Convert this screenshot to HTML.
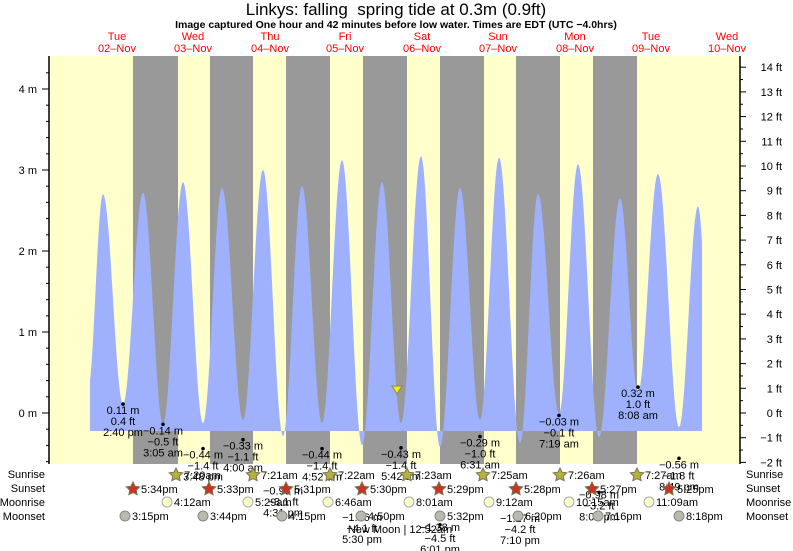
<!DOCTYPE html>
<html><head><meta charset="utf-8"><style>
body{margin:0;background:#fff}
svg{display:block;font-family:"Liberation Sans",sans-serif}
</style></head><body>
<svg id="s" width="793" height="551" xmlns="http://www.w3.org/2000/svg">
<rect x="0" y="0" width="793" height="551" fill="#fff"/>
<g id="bg"></g>
<path id="tide" fill="#9fb1fd"/>
<g id="ax"></g>
<g id="lab" font-size="11" fill="#000" text-anchor="middle"></g>
<text x="396" y="15" font-size="17" text-anchor="middle">Linkys: falling &#160;spring tide at 0.3m (0.9ft)</text>
<text x="396" y="28" font-size="10.5" font-weight="bold" text-anchor="middle">Image captured One hour and 42 minutes before low water. Times are EDT (UTC −4.0hrs)</text>
</svg>
<script>
const NS="http://www.w3.org/2000/svg";
function el(p,t,a,txt){const e=document.createElementNS(NS,t);for(const k in a)e.setAttribute(k,a[k]);if(txt!==undefined)e.textContent=txt;document.getElementById(p).appendChild(e);return e;}
const T=56,B=464,L=49,R=740;
const Y=m=>413-81*m;
el('bg','rect',{x:L,y:T,width:R-L,height:B-T,fill:'#ffffcc'});
[[133,178],[210,253],[286,330],[363,407],[440,484],[516,560],[593,637]].forEach(g=>el('bg','rect',{x:g[0],y:T,width:g[1]-g[0],height:B-T,fill:'#999'}));
const days=[['Tue','02–Nov',117],['Wed','03–Nov',193],['Thu','04–Nov',270],['Fri','05–Nov',345],['Sat','06–Nov',422],['Sun','07–Nov',498],['Mon','08–Nov',575],['Tue','09–Nov',651],['Wed','10–Nov',727]];
days.forEach(d=>{el('ax','text',{x:d[2],y:40,'font-size':11,fill:'#f00','text-anchor':'middle'},d[0]);el('ax','text',{x:d[2],y:52,'font-size':11,fill:'#f00','text-anchor':'middle'},d[1]);});
// curve extremes in pixel y
const ex=[[88,Y(0.3)],[103,Y(2.7)],[123,404],[143,Y(2.72)],[163,424],[183,Y(2.85)],[203,423],[222,Y(2.78)],[243,420],[263,Y(3.0)],[283,436],[302,Y(2.8)],[322,423],[342,Y(3.12)],[362,445],[382,Y(2.85)],[401,423],[421,Y(3.17)],[440,447],[460,Y(2.78)],[480,420],[499,Y(3.15)],[520,443],[538,Y(2.7)],[559,413],[578,Y(3.07)],[599,437],[620,Y(2.65)],[638,392],[658,Y(2.95)],[679,427],[698,Y(2.55)],[712,400]];
let pts=[];
for(let x=90;x<=702;x+=0.5){let i=0;while(i<ex.length-2&&ex[i+1][0]<x)i++;const a=ex[i],b=ex[i+1];const t=(x-a[0])/(b[0]-a[0]);const v=a[1]+(b[1]-a[1])*(1-Math.cos(Math.PI*t))/2;pts.push(x.toFixed(1)+','+v.toFixed(1));}
document.getElementById('tide').setAttribute('d','M90,431L'+pts.join('L')+'L702,431Z');
el('ax','line',{x1:L,y1:T,x2:L,y2:B,stroke:'#000','stroke-width':1.5});
el('ax','line',{x1:R,y1:T,x2:R,y2:B,stroke:'#000','stroke-width':1.5});
for(let m=-0.6;m<=4.4;m+=0.2){const y=Y(m);if(y<T||y>B)continue;const maj=Math.abs(m-Math.round(m))<0.01;el('ax','line',{x1:maj?42:46,y1:y,x2:L,y2:y,stroke:'#000'});if(maj)el('ax','text',{x:37,y:y+4,'font-size':11,'text-anchor':'end'},Math.round(m)+' m');}
for(let f=-2;f<=14;f+=0.5){const y=413-f*24.7;const maj=f%1===0;el('ax','line',{x1:R,y1:y,x2:R+(maj?6:3),y2:y,stroke:'#000'});if(maj)el('ax','text',{x:782,y:y+4,'font-size':11,'text-anchor':'end'},(f<0?'−'+(-f):f)+' ft');}
const lows=[[123,0.11,'0.11 m','0.4 ft','2:40 pm'],[163,-0.14,'−0.14 m','−0.5 ft','3:05 am'],[203,-0.44,'−0.44 m','−1.4 ft','3:48 pm'],[243,-0.33,'−0.33 m','−1.1 ft','4:00 am'],[283,-0.93,'−0.93 m','−3.1 ft','4:31 pm'],[322,-0.44,'−0.44 m','−1.4 ft','4:52 am'],[362,-1.26,'−1.26 m','−4.1 ft','5:30 pm'],[401,-0.43,'−0.43 m','−1.4 ft','5:42 am'],[440,-1.38,'−1.38 m','−4.5 ft','6:01 pm'],[480,-0.29,'−0.29 m','−1.0 ft','6:31 am'],[520,-1.27,'−1.27 m','−4.2 ft','7:10 pm'],[559,-0.03,'−0.03 m','−0.1 ft','7:19 am'],[599,-0.98,'−0.98 m','−3.2 ft','8:00 pm'],[638,0.32,'0.32 m','1.0 ft','8:08 am'],[679,-0.56,'−0.56 m','−1.8 ft','8:49 pm']];
lows.forEach(l=>{const y=Y(l[1]);const o=l[1]<-0.8?-4:0;el('lab','circle',{cx:l[0],cy:y,r:1.8,fill:'#000'});el('lab','text',{x:l[0],y:y+10+o},l[2]);el('lab','text',{x:l[0],y:y+21+o},l[3]);el('lab','text',{x:l[0],y:y+32+o},l[4]);});
el('lab','path',{d:'M392,386L402,386L397,394Z',fill:'#ee0',stroke:'#886'});
[['Sunrise',478],['Sunset',492],['Moonrise',506],['Moonset',520]].forEach(r=>{el('ax','text',{x:45,y:r[1],'font-size':11,'text-anchor':'end'},r[0]);el('ax','text',{x:746,y:r[1],'font-size':11},r[0]);});
function star(x,y,c){let p=[];for(let i=0;i<10;i++){const a=-Math.PI/2+i*Math.PI/5,r=i%2?3.5:7;p.push((x+r*Math.cos(a)).toFixed(1)+','+(y+r*Math.sin(a)).toFixed(1));}el('lab','polygon',{points:p.join(' '),fill:c,stroke:'#775'});}
[[176,'7:20am'],[253,'7:21am'],[330,'7:22am'],[407,'7:23am'],[483,'7:25am'],[560,'7:26am'],[637,'7:27am']].forEach(s=>{star(s[0],475,'#b5b040');el('lab','text',{x:s[0]+8,y:479,'text-anchor':'start'},s[1]);});
[[133,'5:34pm'],[209,'5:33pm'],[286,'5:31pm'],[362,'5:30pm'],[439,'5:29pm'],[516,'5:28pm'],[592,'5:27pm'],[669,'5:25pm']].forEach(s=>{star(s[0],489,'#d03020');el('lab','text',{x:s[0]+8,y:493,'text-anchor':'start'},s[1]);});
[[167,'4:12am'],[248,'5:29am'],[328,'6:46am'],[409,'8:01am'],[489,'9:12am'],[569,'10:15am'],[649,'11:09am']].forEach(s=>{el('lab','circle',{cx:s[0],cy:502,r:5,fill:'#ffffcc',stroke:'#aaa'});el('lab','text',{x:s[0]+7,y:506,'text-anchor':'start'},s[1]);});
[[125,'3:15pm'],[203,'3:44pm'],[282,'4:15pm'],[361,'4:50pm'],[440,'5:32pm'],[518,'6:20pm'],[598,'7:16pm'],[679,'8:18pm']].forEach(s=>{el('lab','circle',{cx:s[0],cy:516,r:5,fill:'#bbb8b0',stroke:'#888'});el('lab','text',{x:s[0]+7,y:520,'text-anchor':'start'},s[1]);});
el('lab','text',{x:400,y:533},'New Moon | 12:52am');
</script>
</body></html>
